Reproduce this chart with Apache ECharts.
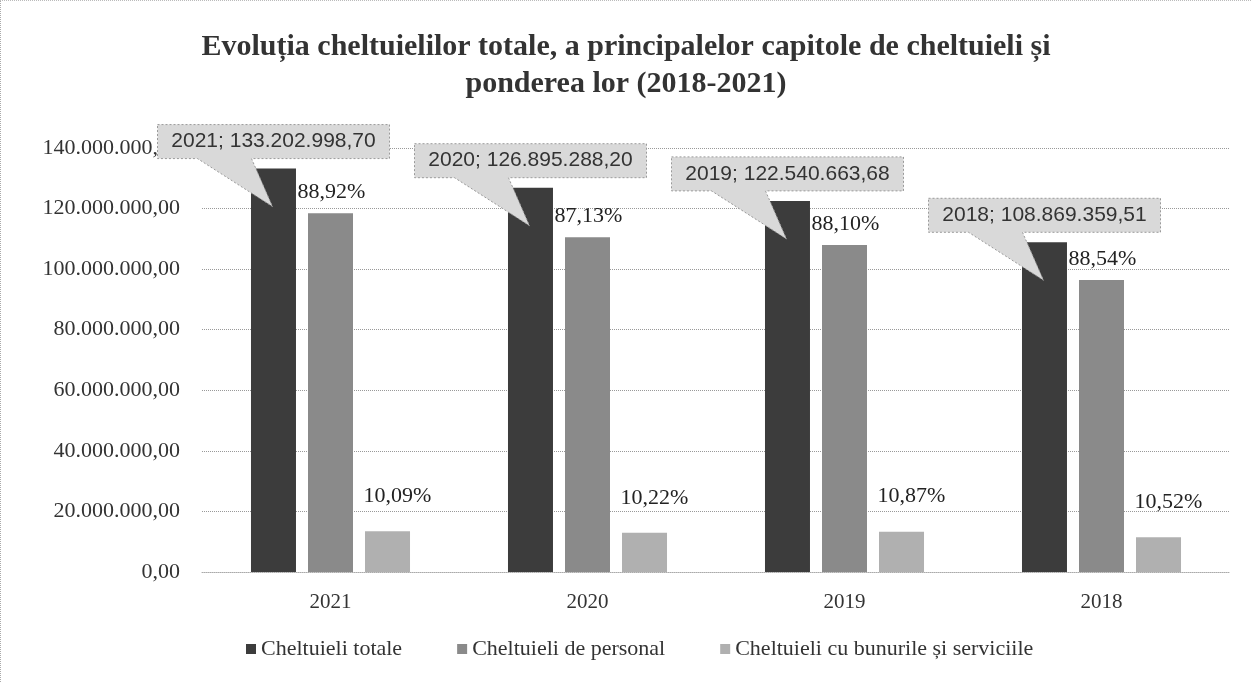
<!DOCTYPE html>
<html>
<head>
<meta charset="utf-8">
<script src="https://cdn.jsdelivr.net/npm/echarts@6/dist/echarts.min.js"></script>
<style>
  html, body { margin: 0; padding: 0; background: #fff; }
  #chart { width: 1251px; height: 682px; box-sizing: border-box; border-left: 1px dotted #aaa; border-top: 1px dotted #bbb; }
</style>
</head>
<body>
<div id="chart"></div>
<script>
const categories = ['2021', '2020', '2019', '2018'];
const totals = [133202998.70, 126895288.20, 122540663.68, 108869359.51];
const personal = [118444100, 110563800, 107958300, 96392900];
const services = [13440200, 12968700, 13320200, 11453100];
const personalShare = [88.92, 87.13, 88.10, 88.54];
const servicesShare = [10.09, 10.22, 10.87, 10.52];
const seriesNames = ['Cheltuieli totale', 'Cheltuieli de personal', 'Cheltuieli cu bunurile și serviciile'];
const yTicks = { min: 0, max: 140000000, interval: 20000000 };

function fmt(v) {
  const parts = Number(v).toFixed(2).split('.');
  parts[0] = parts[0].replace(/\B(?=(\d{3})+(?!\d))/g, '.');
  return parts[0] + ',' + parts[1];
}
function pct(v) { return v.toFixed(2).replace('.', ',') + '%'; }

const serif = '"Liberation Serif", "DejaVu Serif", serif';
const sans = '"Liberation Sans", Arial, sans-serif';
const BAR_W = 45, GAP = 12;

const chart = echarts.init(document.getElementById('chart'));
chart.setOption({
  animation: false,
  backgroundColor: '#fff',
  title: {
    text: 'Evoluția cheltuielilor totale, a principalelor capitole de cheltuieli și\nponderea lor (2018-2021)',
    left: 'center', top: 23, padding: [5, 5, 5, 40],
    textStyle: { fontFamily: serif, fontWeight: 'bold', fontSize: 30, color: '#333', lineHeight: 37 }
  },
  legend: {
    bottom: 17, left: 240, itemWidth: 10, itemHeight: 10, itemGap: 55, icon: 'rect',
    textStyle: { fontFamily: serif, fontSize: 22, color: '#333' },
    data: seriesNames
  },
  grid: { left: 201, right: 21, top: 147, bottom: 110 },
  xAxis: {
    type: 'category', data: categories,
    axisLine: { show: true, lineStyle: { color: '#aaa', type: 'dotted' } },
    axisTick: { show: false },
    axisLabel: { fontFamily: serif, fontSize: 21, color: '#333', margin: 20 }
  },
  yAxis: {
    type: 'value', min: yTicks.min, max: yTicks.max, interval: yTicks.interval,
    axisLine: { show: false }, axisTick: { show: false },
    axisLabel: { fontFamily: serif, fontSize: 22, color: '#333', margin: 22, formatter: fmt },
    splitLine: { lineStyle: { color: '#999', type: 'dotted' } }
  },
  series: [
    {
      name: seriesNames[0], type: 'bar', data: totals, barWidth: BAR_W, barGap: '26.7%',
      itemStyle: { color: '#3c3c3c' }
    },
    {
      name: seriesNames[1], type: 'bar', data: personal, barWidth: BAR_W,
      itemStyle: { color: '#8a8a8a' },
      label: { show: true, position: 'top', distance: 10, offset: [1, 0], fontFamily: serif, fontSize: 22, color: '#222',
        formatter: p => pct(personalShare[p.dataIndex]) }
    },
    {
      name: seriesNames[2], type: 'bar', data: services, barWidth: BAR_W,
      itemStyle: { color: '#b0b0b0' },
      label: { show: true, position: 'top', distance: 24, offset: [10, 0], fontFamily: serif, fontSize: 22, color: '#222',
        formatter: p => pct(servicesShare[p.dataIndex]) }
    },
    {
      type: 'custom', name: 'callouts', data: totals.map((v, i) => [i, v]),
      clip: false, z: 10, silent: true, legendHoverLink: false,
      renderItem: function (params, api) {
        const i = api.value(0), v = api.value(1);
        const p = api.coord([i, v]);
        const bx = p[0] - (BAR_W + GAP);
        const top = p[1];
        const B = top - 10, T = B - 34, L = bx - 116, R = bx + 116;
        const tip = [bx - 1, top + 38];
        return {
          type: 'group',
          children: [
            { type: 'polygon',
              shape: { points: [[L, T], [R, T], [R, B], [bx - 22, B], tip, [bx - 76, B], [L, B]] },
              style: { fill: '#d9d9d9', stroke: '#9a9a9a', lineWidth: 1, lineDash: [2, 2] } },
            { type: 'text',
              style: { x: bx, y: (T + B) / 2, text: categories[i] + '; ' + fmt(v),
                fill: '#333', font: '21px ' + sans, textAlign: 'center', textVerticalAlign: 'middle' } }
          ]
        };
      }
    }
  ]
});
</script>
</body>
</html>
